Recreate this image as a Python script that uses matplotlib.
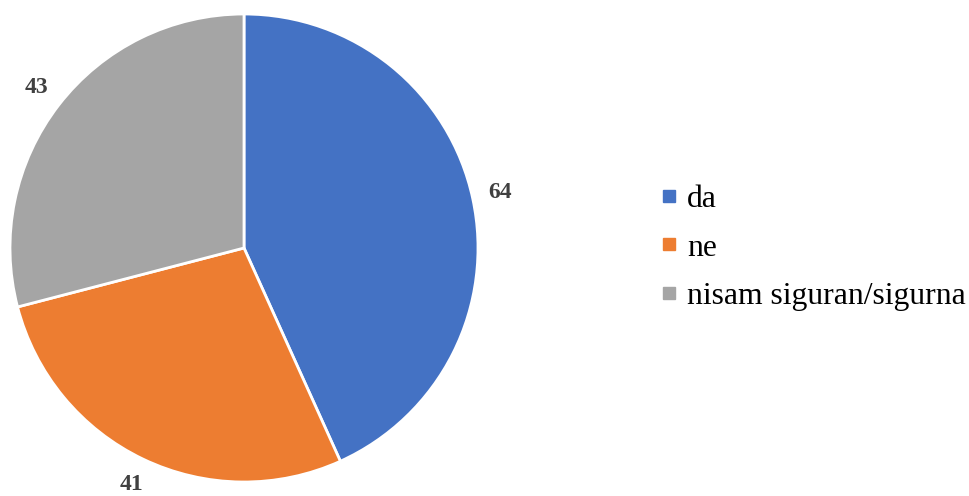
import matplotlib.pyplot as plt
from matplotlib.lines import Line2D

categories = ["da", "ne", "nisam siguran/sigurna"]
values = [64, 41, 43]
colors = ["#4472C4", "#ED7D31", "#A5A5A5"]

plt.rcParams['font.family'] = ['Liberation Serif', 'DejaVu Serif']

fig = plt.figure(figsize=(9.7, 4.96), dpi=100)
ax = fig.add_axes([10 / 970, 14 / 496, 468 / 970, 468 / 496])

ax.pie(values, colors=colors, startangle=90, counterclock=False,
       autopct=lambda p: f"{round(p * sum(values) / 100):d}",
       pctdistance=1.12,
       wedgeprops=dict(edgecolor="white", linewidth=2),
       textprops=dict(fontsize=17, fontweight="bold", color="#404040"))
ax.set_aspect("equal")
ax.set_xlim(-1, 1)
ax.set_ylim(-1, 1)

handles = [Line2D([0], [0], marker="s", linestyle="", markersize=9,
                  markerfacecolor=c, markeredgecolor=c) for c in colors]
fig.legend(handles, categories, loc="center left", bbox_to_anchor=(641 / 970, 0.5),
           frameon=False, fontsize=22.8, handletextpad=0.15, labelspacing=0.6,
           handlelength=0.8, borderpad=0)

fig.savefig("out.png", dpi=100)
